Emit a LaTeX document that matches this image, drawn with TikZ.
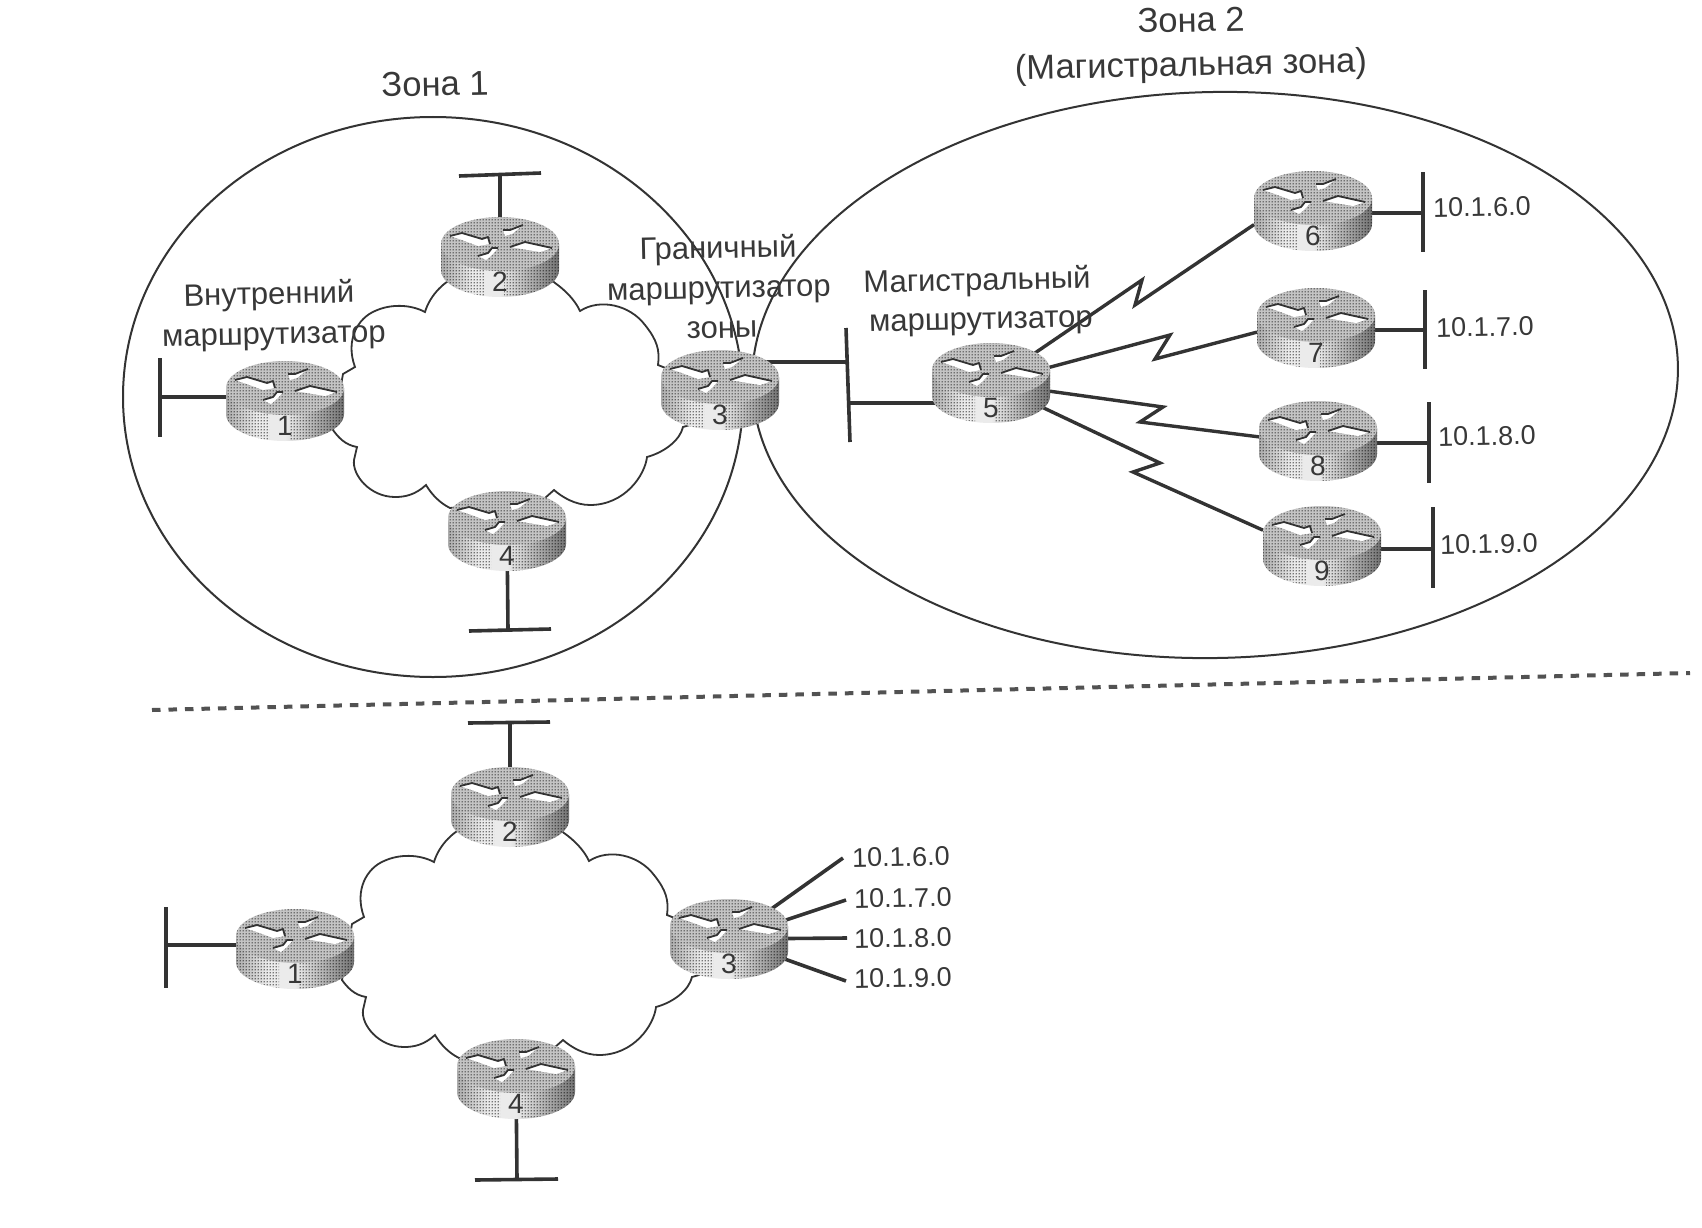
\documentclass[tikz,border=0pt]{standalone}
\usepackage{fontspec}
\setmainfont{Liberation Sans}
\usetikzlibrary{shapes.geometric,patterns}
\definecolor{ink}{gray}{0.2}
\definecolor{txt}{gray}{0.22}
\definecolor{rtop}{gray}{0.77}
\definecolor{rlo}{gray}{0.68}
\definecolor{rhi}{gray}{0.92}
\definecolor{rmid}{gray}{0.82}
\definecolor{rdk}{gray}{0.45}
\pgfdeclarehorizontalshading{routerside}{100bp}{color(0bp)=(rlo); color(25bp)=(rlo); color(38bp)=(rhi); color(50bp)=(rhi); color(56bp)=(rmid); color(75bp)=(rdk); color(100bp)=(rdk)}
\pgfdeclarepatternformonly{halftone}{\pgfqpoint{-1pt}{-1pt}}{\pgfqpoint{2pt}{2pt}}{\pgfqpoint{3pt}{3pt}}{%
  \pgfpathcircle{\pgfqpoint{0.5pt}{0.5pt}}{0.8pt}\pgfusepath{fill}}
\tikzset{
  routerbox/.style={rectangle,minimum width=118pt,minimum height=80pt,inner sep=0pt,outer sep=0pt},
  zone/.style={ellipse,draw=ink,line width=2pt,inner sep=0pt,outer sep=0pt},
  wire/.style={draw=ink,line width=3.6pt},
  serial/.style={draw=ink,line width=3.4pt,line join=miter},
  cloudline/.style={draw=ink,line width=1.8pt},
  sepline/.style={draw=ink!85,line width=4pt,dash pattern=on 8.5pt off 8pt},
  lab/.style={text=txt,font=\fontsize{31}{36}\selectfont,inner sep=0pt,rotate=1.2},
  ttl/.style={text=txt,font=\fontsize{34.5}{40}\selectfont,inner sep=0pt,rotate=1.2},
  addr/.style={text=txt,font=\fontsize{27}{32}\selectfont,inner sep=0pt,rotate=1.2},
  numlab/.style={text=txt,font=\fontsize{28}{32}\selectfont,inner sep=0pt},
  glyphline/.style={draw=ink,line width=1.8pt,line join=round},
}
\newcommand\routerdraw[2]{%
  \begin{scope}[shift={(#1.center)}]
    \path[shading=routerside] (-59,-13) -- (-59,13) arc[start angle=180,end angle=0,x radius=59,y radius=27] -- (59,-13) -- cycle;
    \begin{scope}
      \clip (-60,-13) rectangle (-16,45);
      \path[pattern=halftone,pattern color=black] (-59,-13) -- (-59,13) arc[start angle=180,end angle=0,x radius=59,y radius=27] -- (59,-13) -- cycle;
    \end{scope}
    \begin{scope}
      \clip (4,-13) rectangle (60,45);
      \path[pattern=halftone,pattern color=black] (-59,-13) -- (-59,13) arc[start angle=180,end angle=0,x radius=59,y radius=27] -- (59,-13) -- cycle;
    \end{scope}
    \fill[rtop] (0,-13) ellipse[x radius=59,y radius=27];
    \path[pattern=halftone,pattern color=black] (0,-13) ellipse[x radius=59,y radius=27];
    \fill[white] (-50,-21) -- (-38,-24) -- (-18,-18) -- (-12,-20) -- (-10,-13) -- (-22,-11) -- (-38,-17) -- cycle;
    \fill[white] (3,-27) -- (10,-27) -- (23,-32) -- (12,-23) -- (5,-21) -- cycle;
    \fill[white] (10,-10) -- (25,-15) -- (52,-9) -- (40,-5) -- (22,-8) -- cycle;
    \fill[white] (-22,-1) -- (-12,-4) -- (-8,-9) -- (-2,-9) -- (-8,-2) -- (-14,3) -- cycle;
    \draw[glyphline] (-50,-21) -- (-38,-24) -- (-18,-18) -- (-12,-20) -- (-10,-13);
    \draw[glyphline] (3,-27) -- (10,-27) -- (23,-32);
    \draw[glyphline] (10,-10) -- (25,-15) -- (52,-9);
    \draw[glyphline] (-22,-1) -- (-12,-4) -- (-8,-9) -- (-2,-9);
    \node[numlab] (n#1) at (0,25) {#2};
  \end{scope}}
\newcommand\cloudpath{%
  \draw[cloudline] (343,374) -- (355,367) .. controls (345,340) and (358,318) .. (375,311)
    .. controls (390,304) and (410,304) .. (425,312)
    .. controls (430,295) and (445,280) .. (460,275) -- (545,275) -- (555,283)
    .. controls (565,290) and (575,300) .. (580,311)
    .. controls (600,298) and (630,305) .. (645,325)
    .. controls (657,340) and (660,350) .. (658,365) -- (668,369) -- (690,425) -- (683,427)
    .. controls (680,440) and (665,452) .. (647,457)
    .. controls (645,475) and (625,505) .. (590,505)
    .. controls (575,505) and (562,497) .. (554,490) -- (545,498) -- (450,508)
    .. controls (440,503) and (432,495) .. (426,485)
    .. controls (415,495) and (405,497) .. (395,497)
    .. controls (370,497) and (352,475) .. (354,460) -- (357,447)
    .. controls (345,445) and (338,437) .. (333,430) -- cycle;}
\begin{document}
\begin{tikzpicture}[x=1pt,y=-1pt]
\useasboundingbox (0,0) rectangle (1702,1228);
\fill[white] (0,0) rectangle (1702,1228);
% router footprints
\node[routerbox] (a1) at (285,401) {};
\node[routerbox] (a2) at (500,257) {};
\node[routerbox] (a3) at (720,390) {};
\node[routerbox] (a4) at (507,531) {};
\node[routerbox] (a5) at (991,383) {};
\node[routerbox] (a6) at (1313,211) {};
\node[routerbox] (a7) at (1316,328) {};
\node[routerbox] (a8) at (1318,441) {};
\node[routerbox] (a9) at (1322,546) {};
\node[routerbox] (b1) at (295,949) {};
\node[routerbox] (b2) at (510,807) {};
\node[routerbox] (b3) at (729,939) {};
\node[routerbox] (b4) at (516,1079) {};
% zones
\node[zone,minimum width=620pt,minimum height=560pt] (zone1) at (433,397) {};
\node[zone,minimum width=926pt,minimum height=566pt,rotate=1.2] (zone2) at (1215,375) {};
% separator
\coordinate (sepL) at (152,710);
\coordinate (sepR) at (1690,673);
\draw[sepline] (sepL) -- (sepR);
% clouds
\cloudpath
\begin{scope}[shift={(9,550)}]\cloudpath\end{scope}
% LAN bars, upper part
\coordinate (t1a) at (160,358); \coordinate (t1b) at (160,437); \coordinate (s1) at (160,397);
\draw[wire] (t1a) -- (t1b); \draw[wire] (s1) -- (a1.center |- s1);
\coordinate (t2a) at (459,176); \coordinate (t2b) at (541,173); \coordinate (s2) at (500,175);
\draw[wire] (t2a) -- (t2b); \draw[wire] (s2) -- (a2.center);
\coordinate (t4a) at (469,631); \coordinate (t4b) at (551,629); \coordinate (s4) at (508,630);
\draw[wire] (t4a) -- (t4b); \draw[wire] (s4) -- (a4.center);
\coordinate (t3a) at (846,328); \coordinate (t3b) at (850,442); \coordinate (s3) at (847,362); \coordinate (s5) at (848,403);
\draw[wire] (t3a) -- (t3b);
\draw[wire] (s3) -- (a3.center |- s3);
\draw[wire] (s5) -- (a5.center |- s5);
% serial links
\coordinate (z6a) at (1142,280); \coordinate (z6b) at (1135,305);
\coordinate (z7a) at (1170,335); \coordinate (z7b) at (1155,359);
\coordinate (z8a) at (1163,407); \coordinate (z8b) at (1140,422);
\coordinate (z9a) at (1160,463); \coordinate (z9b) at (1133,472);
\draw[serial] (a5.center) -- (z6a) -- (z6b) -- (a6.193);
\draw[serial] (a5.center) -- (z7a) -- (z7b) -- (a7.184);
\draw[serial] (a5.center) -- (z8a) -- (z8b) -- (a8.176);
\draw[serial] (a5.center) -- (z9a) -- (z9b) -- (a9.165);
% right-hand LANs
\coordinate (u6a) at (1423,172); \coordinate (u6b) at (1423,252); \coordinate (v6) at (1423,213);
\coordinate (u7a) at (1425,290); \coordinate (u7b) at (1425,369); \coordinate (v7) at (1425,330);
\coordinate (u8a) at (1429,402); \coordinate (u8b) at (1429,483); \coordinate (v8) at (1429,443);
\coordinate (u9a) at (1433,507); \coordinate (u9b) at (1433,588); \coordinate (v9) at (1433,549);
\draw[wire] (u6a) -- (u6b); \draw[wire] (v6) -- (a6.center |- v6);
\draw[wire] (u7a) -- (u7b); \draw[wire] (v7) -- (a7.center |- v7);
\draw[wire] (u8a) -- (u8b); \draw[wire] (v8) -- (a8.center |- v8);
\draw[wire] (u9a) -- (u9b); \draw[wire] (v9) -- (a9.center |- v9);
% lower part LANs
\coordinate (w1a) at (166,907); \coordinate (w1b) at (166,988); \coordinate (x1) at (166,945);
\draw[wire] (w1a) -- (w1b); \draw[wire] (x1) -- (b1.center |- x1);
\coordinate (w2a) at (468,723); \coordinate (w2b) at (550,722); \coordinate (x2) at (510,722);
\draw[wire] (w2a) -- (w2b); \draw[wire] (x2) -- (b2.center);
\coordinate (w4a) at (475,1180); \coordinate (w4b) at (558,1179); \coordinate (x4) at (517,1179);
\draw[wire] (w4a) -- (w4b); \draw[wire] (x4) -- (b4.center);
\coordinate (y6) at (843,858); \coordinate (y7) at (846,900); \coordinate (y8) at (847,938); \coordinate (y9) at (846,981);
\draw[wire] (b3.center) -- (y6);
\draw[wire] (b3.center) -- (y7);
\draw[wire] (b3.center) -- (y8);
\draw[wire] (b3.center) -- (y9);
% routers
\routerdraw{a1}{1}\routerdraw{a2}{2}\routerdraw{a3}{3}\routerdraw{a4}{4}
\routerdraw{a5}{5}\routerdraw{a6}{6}\routerdraw{a7}{7}\routerdraw{a8}{8}\routerdraw{a9}{9}
\routerdraw{b1}{1}\routerdraw{b2}{2}\routerdraw{b3}{3}\routerdraw{b4}{4}
% labels
\node[ttl] (lz1) at (435,84) {Зона 1};
\node[ttl] (lz2) at (1191,20) {Зона 2};
\node[ttl] (lz2b) at (1191,67) {(Магистральная зона)};
\node[lab] (l1a) at (269,296) {Внутренний};
\node[lab] (l1b) at (274,339) {маршрутизатор};
\node[lab] (l3a) at (718,250) {Граничный};
\node[lab] (l3b) at (719,293) {маршрутизатор};
\node[lab] (l3c) at (722,330) {зоны};
\node[lab] (l5a) at (977,282) {Магистральный};
\node[lab] (l5b) at (981,324) {маршрутизатор};
\node[addr,anchor=west] (p6) at (1433,208) {10.1.6.0};
\node[addr,anchor=west] (p7) at (1436,328) {10.1.7.0};
\node[addr,anchor=west] (p8) at (1438,437) {10.1.8.0};
\node[addr,anchor=west] (p9) at (1440,545) {10.1.9.0};
\node[addr,anchor=west] (q6) at (852,858) {10.1.6.0};
\node[addr,anchor=west] (q7) at (854,899) {10.1.7.0};
\node[addr,anchor=west] (q8) at (854,939) {10.1.8.0};
\node[addr,anchor=west] (q9) at (854,979) {10.1.9.0};
\end{tikzpicture}
\end{document}
